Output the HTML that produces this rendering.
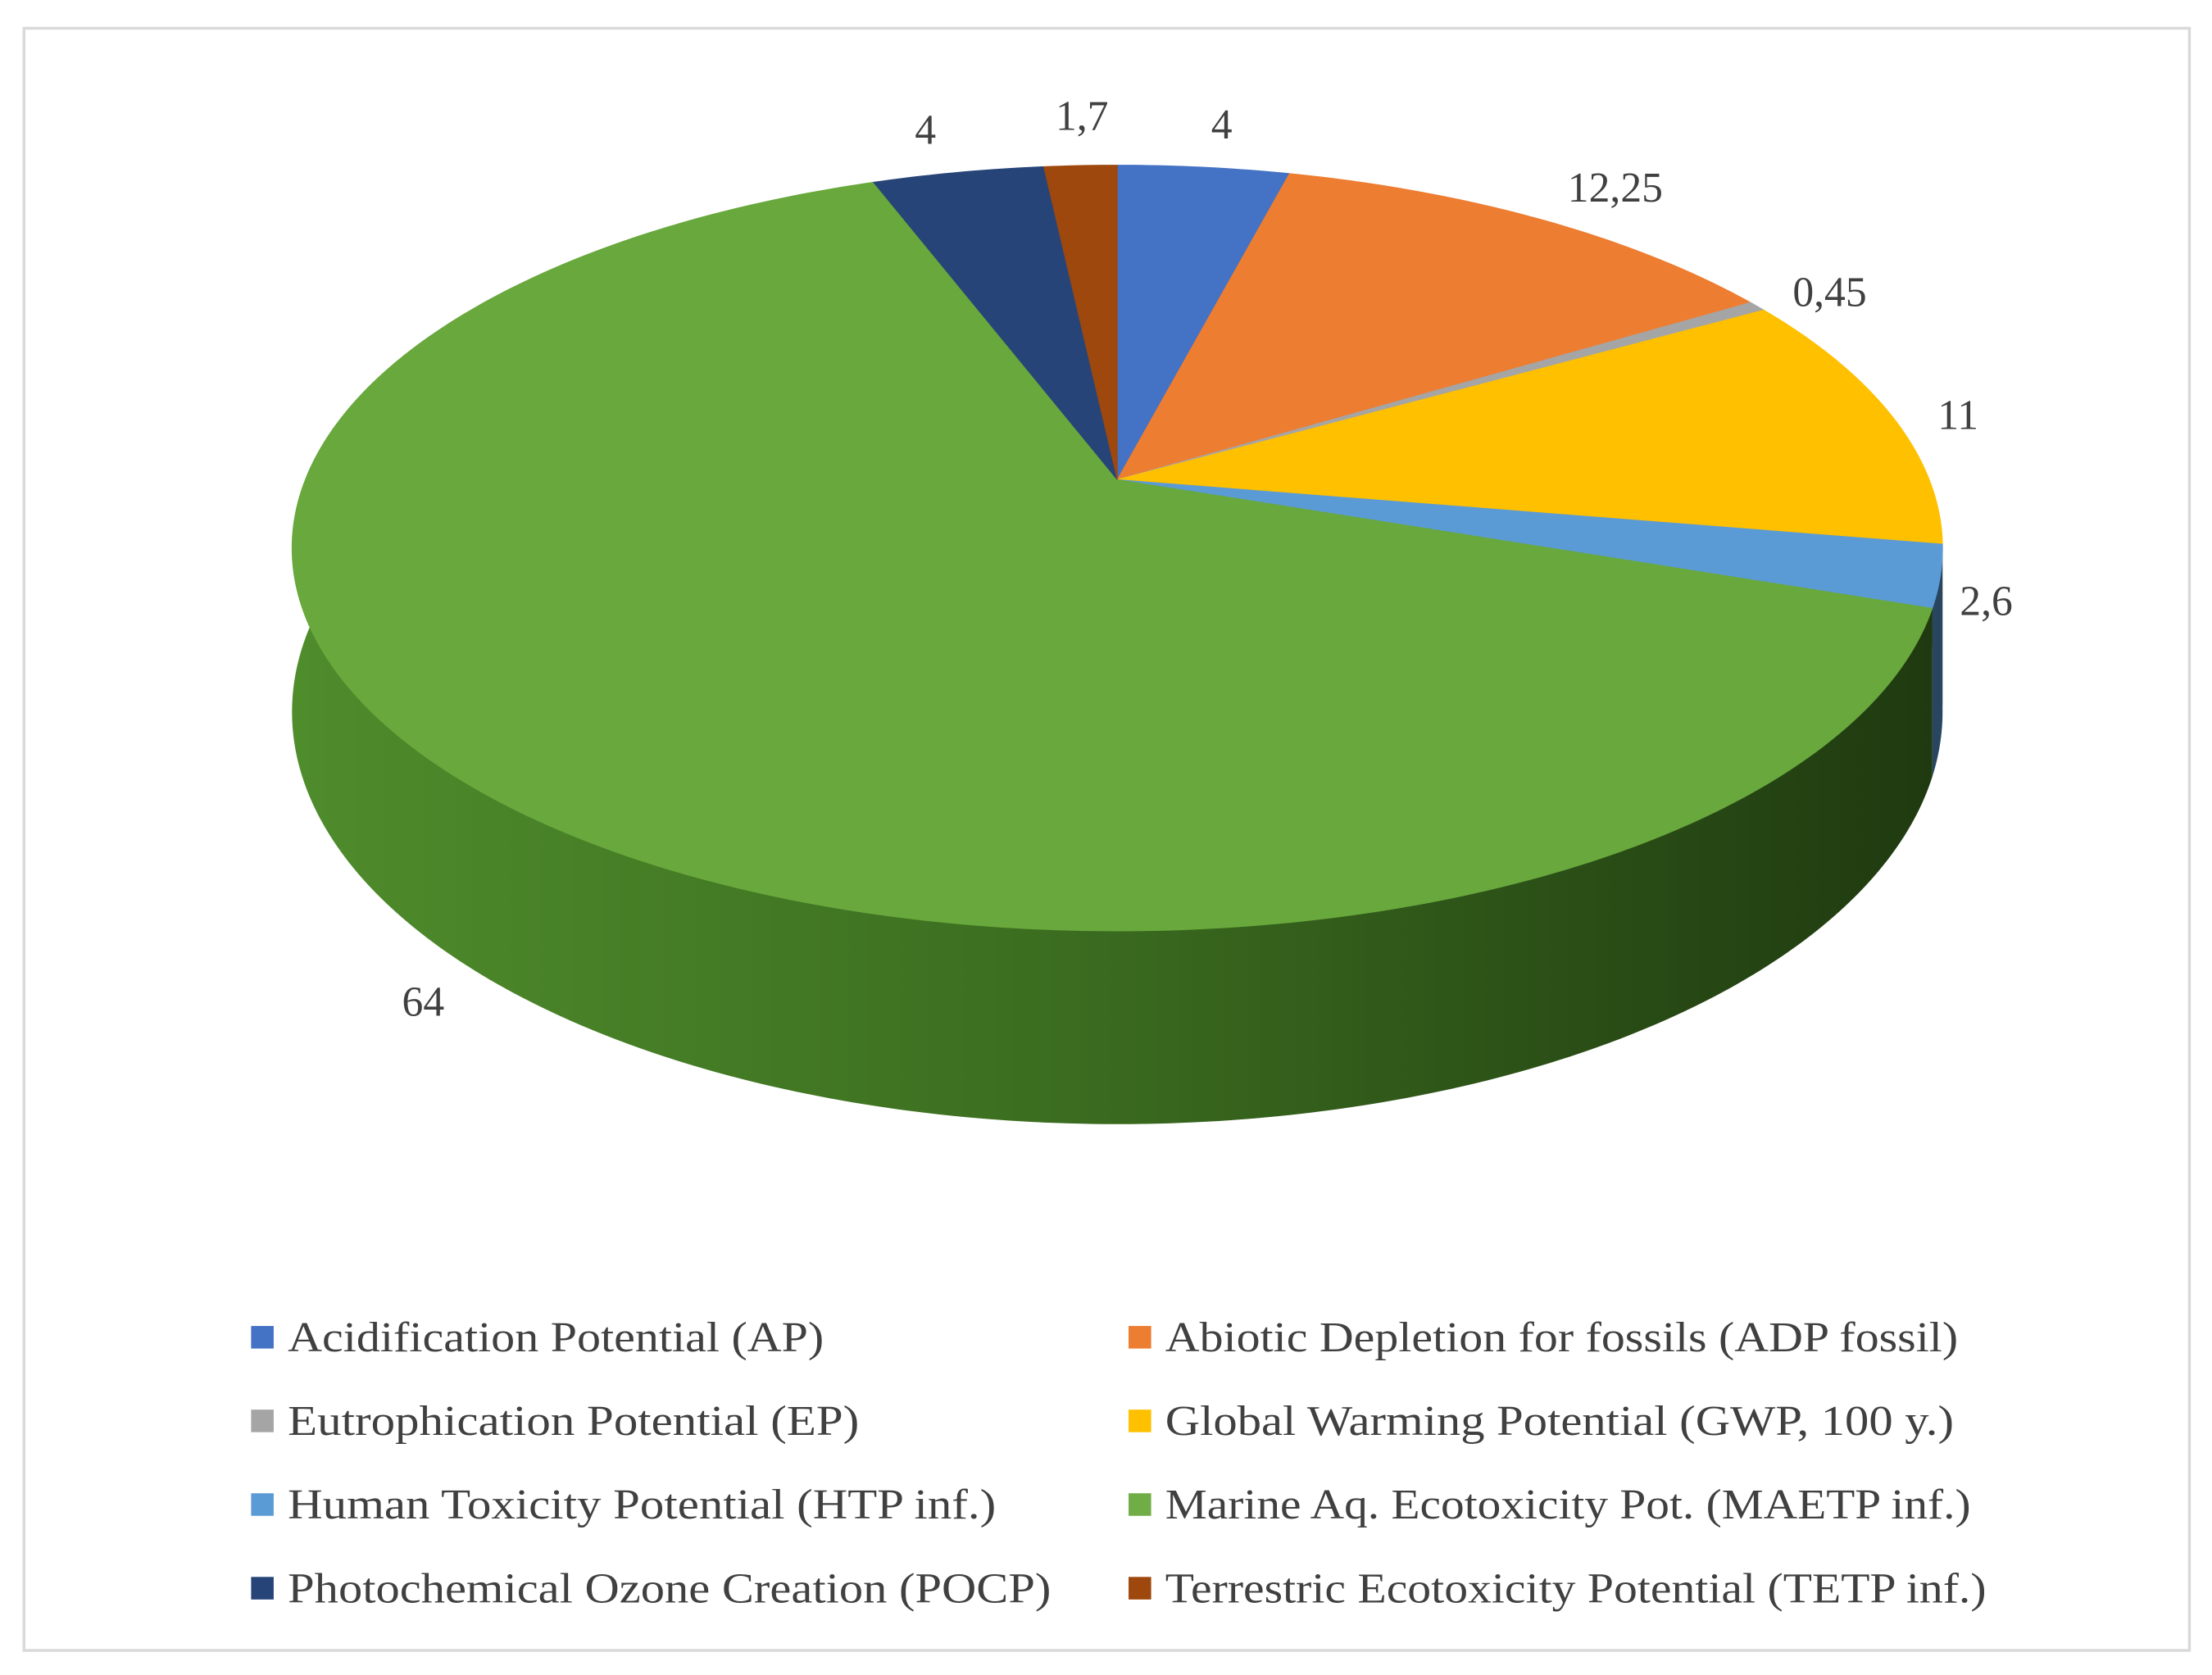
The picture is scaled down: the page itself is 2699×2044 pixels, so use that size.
<!DOCTYPE html>
<html><head><meta charset="utf-8"><style>
html,body{margin:0;padding:0;background:#fff}
svg{display:block}
text{font-family:"Liberation Serif",serif;fill:#404040}
</style></head><body>
<svg id="chart" width="2699" height="2044" viewBox="0 0 1568 1187.4" xmlns="http://www.w3.org/2000/svg">
<defs>
<linearGradient id="sideGreen" x1="0" x2="1" y1="0" y2="0">
<stop offset="0" stop-color="#4f8c2c"/><stop offset="0.45" stop-color="#3c6e20"/><stop offset="1" stop-color="#1f3a10"/>
</linearGradient>
</defs>
<rect x="17" y="20" width="1535" height="1150" fill="#fff" stroke="#d9d9d9" stroke-width="2"/>
<g id="sides"></g><g id="tops"></g><g id="labels"></g><g id="legend"></g>
</svg>
<script>
const categories = ["Acidification Potential (AP)","Abiotic Depletion for fossils (ADP fossil)","Eutrophication Potential (EP)","Global Warming Potential (GWP, 100 y.)","Human Toxicity Potential (HTP inf.)","Marine Aq. Ecotoxicity Pot. (MAETP inf.)","Photochemical Ozone Creation (POCP)","Terrestric Ecotoxicity Potential (TETP inf.)"];
const values = [4, 12.25, 0.45, 11, 2.6, 64, 4, 1.7];
const valueLabels = ["4","12,25","0,45","11","2,6","64","4","1,7"];
const colors = ["#4472C4","#ED7D31","#A5A5A5","#FFC000","#5B9BD5","#70AD47","#264478","#9E480E"];
const keys = ["ap","adp","ep","gwp","htp","maetp","pocp","tetp"];
</script>
<script>
const NS="http://www.w3.org/2000/svg";
const cx=792, cy=340, B=575.6, A=262.8, k=-0.1786, D=112.5;
function pt(th, dz){const u=Math.sin(th), v=-Math.cos(th); const den=1+k*v;
  return [cx+B*u/den, cy+A*v/den+(dz?D/den:0)];}
const total=values.reduce((a,b)=>a+b,0);
const sides=document.getElementById('sides'), tops=document.getElementById('tops');
let acc=0;
function shade(hex,f){const n=parseInt(hex.slice(1),16);let r=n>>16,g=(n>>8)&255,b=n&255;
  return `rgb(${Math.round(r*f)},${Math.round(g*f)},${Math.round(b*f)})`;}
values.forEach((val,i)=>{
  const a0=acc/total*2*Math.PI, a1=(acc+val)/total*2*Math.PI; acc+=val;
  const N=Math.max(4,Math.ceil((a1-a0)*80));
  let topPts=[], botPts=[];
  for(let j=0;j<=N;j++){const t=a0+(a1-a0)*j/N; topPts.push(pt(t,false)); botPts.push(pt(t,true));}
  const side=document.createElementNS(NS,'path');
  let d='M'+topPts.map(p=>p.join(',')).join('L')+'L'+botPts.slice().reverse().map(p=>p.join(',')).join('L')+'Z';
  side.setAttribute('d',d);
  side.setAttribute('fill', i===5?'url(#sideGreen)':shade(colors[i],0.45));
  
  
  sides.appendChild(side);
  const top=document.createElementNS(NS,'path');
  top.setAttribute('d','M'+cx+','+cy+'L'+topPts.map(p=>p.join(',')).join('L')+'Z');
  top.setAttribute('fill', i===5?'#68a83c':colors[i]);
  top.setAttribute('stroke', i===5?'#68a83c':colors[i]);
  top.setAttribute('stroke-width','0.5');
  
  
  tops.appendChild(top);
});
const labelPos=[[866,98],[1145,143],[1297,217],[1388,304],[1408,436],[300,720],[656,102],[767,92]];
const lg=document.getElementById('labels');
valueLabels.forEach((s,i)=>{const t=document.createElementNS(NS,'text');
  t.setAttribute('x',labelPos[i][0]);t.setAttribute('y',labelPos[i][1]);
  t.setAttribute('text-anchor','middle');t.setAttribute('font-size','30');t.textContent=s;
  
  
  lg.appendChild(t);});
const legendWidths=[380,562,405,559,502,571,541,582];
const leg=document.getElementById('legend');
categories.forEach((c,i)=>{const col=i%2,row=Math.floor(i/2);
  const x=col?800:178, y=948+row*59.3;
  const g=document.createElementNS(NS,'g');
  
  
  const r=document.createElementNS(NS,'rect');
  r.setAttribute('x',x);r.setAttribute('y',y-8);r.setAttribute('width',16);r.setAttribute('height',16);r.setAttribute('fill',colors[i]);
  
  
  const t=document.createElementNS(NS,'text');
  t.setAttribute('x',x+26);t.setAttribute('y',y+10);t.setAttribute('font-size','30');t.textContent=c;
  t.setAttribute('textLength',legendWidths[i]);t.setAttribute('lengthAdjust','spacingAndGlyphs');
  
  
  g.appendChild(r);g.appendChild(t);leg.appendChild(g);});
</script>
</body></html>
